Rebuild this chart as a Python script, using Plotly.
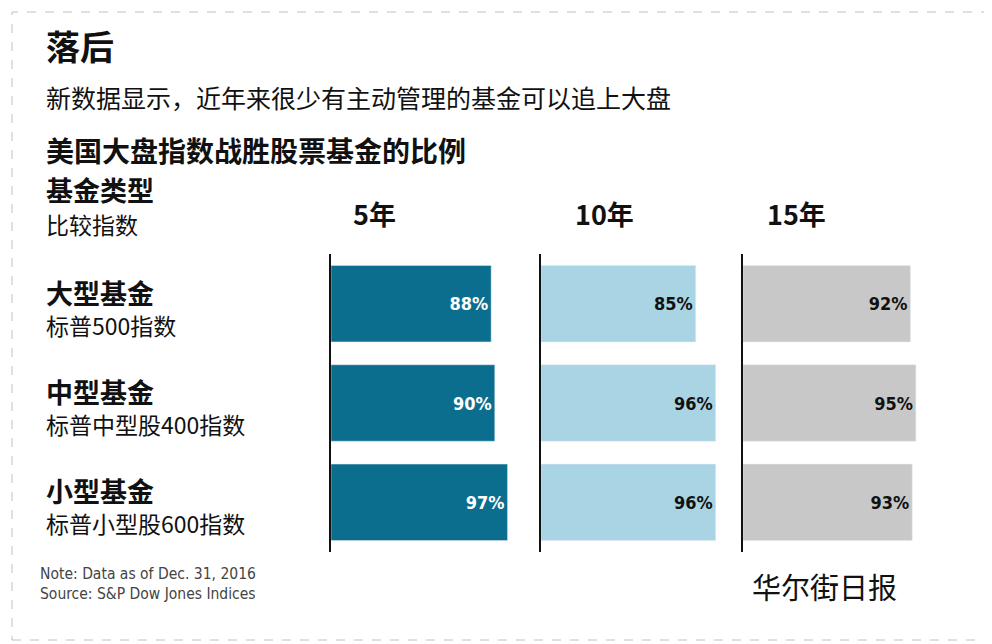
import plotly.graph_objects as go
from plotly.subplots import make_subplots

categories = ['大型基金', '中型基金', '小型基金']
subtitles = ['标普500指数', '标普中型股400指数', '标普小型股600指数']
periods = ['5年', '10年', '15年']
values = {
    '5年': [88, 90, 97],
    '10年': [85, 96, 96],
    '15年': [92, 95, 93],
}
colors = ['#0b6e8e', '#a9d4e4', '#c8c8c8']
text_colors = ['white', '#111111', '#111111']

W, H = 992, 644
OFF = 8  # page body margin shifts the figure
FONT = 'Noto Sans CJK SC'


def px_x(x):
    return (x - OFF) / W


def px_y(y):
    return 1 - (y - OFF) / H


fig = make_subplots(rows=1, cols=3, shared_yaxes=False)
domains = [(331, 513), (541, 723), (743, 925)]
for i, p in enumerate(periods):
    fig.add_trace(go.Bar(
        x=values[p], y=categories, orientation='h',
        marker_color=colors[i], width=0.77,
        text=[f'<b>{v}%</b>' for v in values[p]], textposition='inside', insidetextanchor='end',
        textfont=dict(family='DejaVu Sans Condensed', size=18, color=text_colors[i]),
        hoverinfo='skip', showlegend=False,
    ), row=1, col=i + 1)
    ax = '' if i == 0 else str(i + 1)
    fig.layout['xaxis' + ax].update(domain=[px_x(domains[i][0]), px_x(domains[i][1])],
                                    range=[0, 100], visible=False)
    fig.layout['yaxis' + ax].update(domain=[px_y(552), px_y(254)], range=[2.5, -0.5],
                                    categoryorder='array', categoryarray=categories,
                                    showticklabels=False, showgrid=False, zeroline=False,
                                    showline=True, linecolor='#111111', linewidth=2, ticks='')

anns = [
    ('落后', 44, 46, 34, True),
    ('新数据显示，近年来很少有主动管理的基金可以追上大盘', 44, 97, 25, False),
    ('美国大盘指数战胜股票基金的比例', 44, 150, 28, True),
    ('基金类型', 44, 190, 27, True),
    ('比较指数', 44, 224, 23, False),
]
for j, (c, s) in enumerate(zip(categories, subtitles)):
    anns.append((c, 44, 292 + j * 99, 27, True))
    anns.append((s, 44, 325 + j * 99, 23, False))

for text, x, y, size, bold in anns:
    fig.add_annotation(text=f'<b>{text}</b>' if bold else text, x=px_x(x), y=px_y(y),
                       xref='paper', yref='paper', xanchor='left', yanchor='middle',
                       showarrow=False, font=dict(family=FONT, size=size, color='#111111'))

for p, cx in zip(periods, [374, 604, 828]):
    fig.add_annotation(text=f'<b>{p}</b>', x=px_x(cx), y=px_y(192), xref='paper', yref='paper',
                       showarrow=False, font=dict(family=FONT, size=27, color='#111111'))

fig.add_annotation(text='Note: Data as of Dec. 31, 2016<br>Source: S&P Dow Jones Indices',
                   x=px_x(38), y=px_y(584), xref='paper', yref='paper', xanchor='left',
                   yanchor='middle', align='left', showarrow=False,
                   font=dict(family='DejaVu Sans Condensed', size=15.5, color='#444444'))
fig.add_annotation(text='华尔街日报', x=px_x(750), y=px_y(586), xref='paper', yref='paper',
                   xanchor='left', yanchor='middle', showarrow=False,
                   font=dict(family=FONT, size=29, color='#111111'))

fig.add_shape(type='rect', xref='paper', yref='paper', x0=px_x(12), x1=px_x(W - 4),
              y0=px_y(H - 4), y1=px_y(12), line=dict(color='#c0c0c8', width=1, dash='dash'))

fig.update_layout(width=W, height=H, margin=dict(l=0, r=0, t=0, b=0),
                  paper_bgcolor='white', plot_bgcolor='white', bargap=0.2)
fig.write_html('out.html')
